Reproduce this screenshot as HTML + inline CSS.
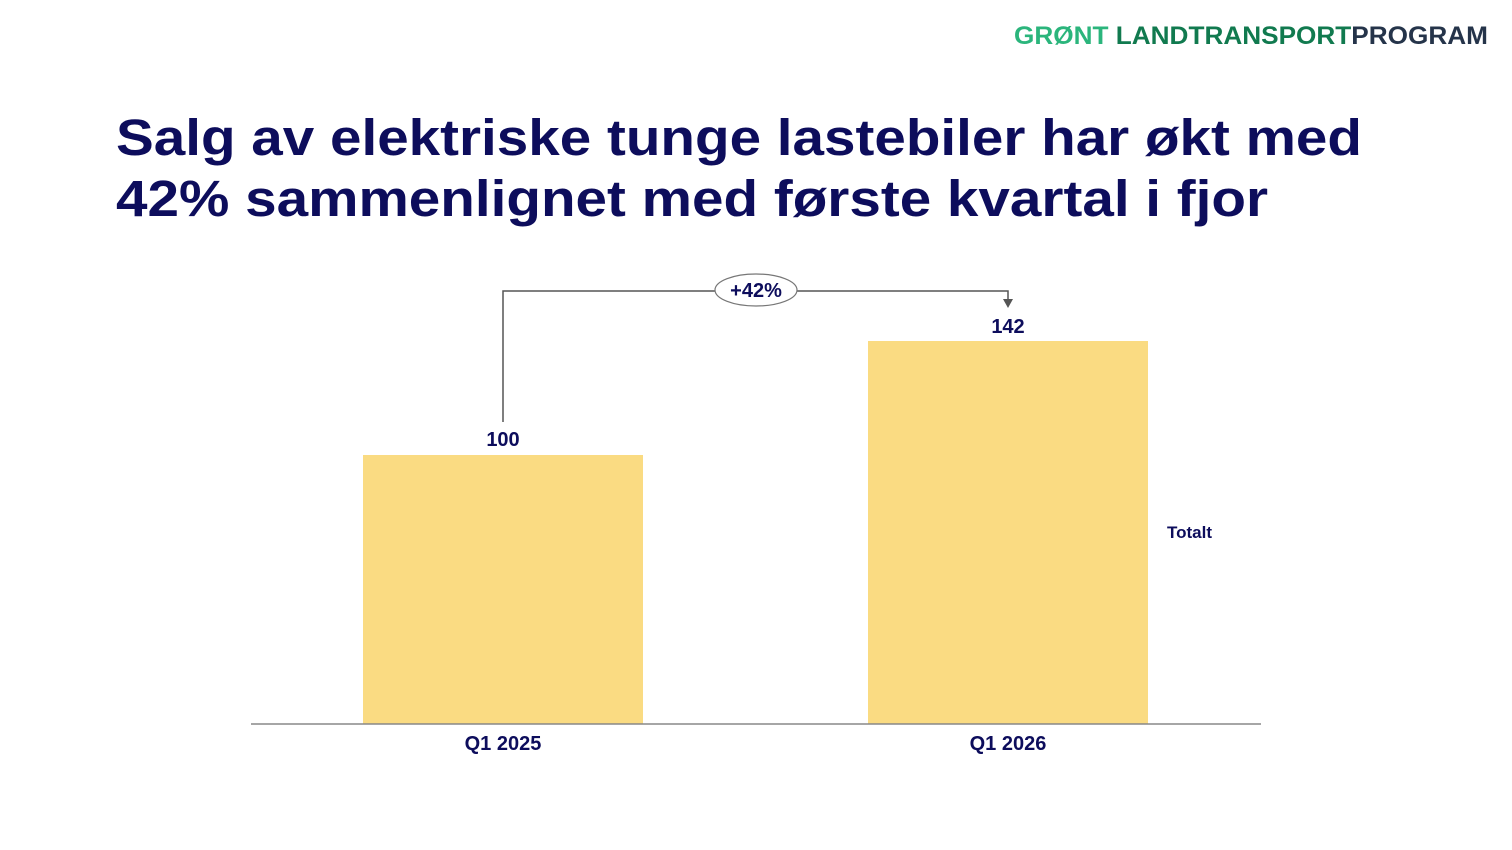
<!DOCTYPE html>
<html><head><style>
html,body{margin:0;padding:0;background:#fff;}
body{width:1512px;height:850px;position:relative;overflow:hidden;font-family:"Liberation Sans",Arial,sans-serif;}
</style></head><body>
<svg width="1512" height="850" xmlns="http://www.w3.org/2000/svg" style="position:absolute;left:0;top:0">
<text x="1014" y="44" font-family="Liberation Sans, sans-serif" font-weight="bold" font-size="25" textLength="474" lengthAdjust="spacingAndGlyphs"><tspan fill="#2bb57c">GRØNT </tspan><tspan fill="#117a4f">LANDTRANSPORT</tspan><tspan fill="#25344a">PROGRAM</tspan></text>
<text x="116" y="155" font-weight="bold" font-size="51" fill="#0d0d5c" textLength="1246" lengthAdjust="spacingAndGlyphs">Salg av elektriske tunge lastebiler har økt med</text>
<text x="116" y="216" font-weight="bold" font-size="51" fill="#0d0d5c" textLength="1152" lengthAdjust="spacingAndGlyphs">42% sammenlignet med første kvartal i fjor</text>
<rect x="363" y="455" width="280" height="269" fill="#fadb82"/>
<rect x="868" y="341" width="280" height="383" fill="#fadb82"/>
<line x1="251" y1="724" x2="1261" y2="724" stroke="#888" stroke-width="1.5"/>
<polyline points="503,422 503,291 1008,291 1008,301" fill="none" stroke="#555" stroke-width="1.5"/>
<polygon points="1003,299 1013,299 1008,308" fill="#555"/>
<ellipse cx="756" cy="290" rx="41" ry="16" fill="#fff" stroke="#777" stroke-width="1.2"/>
<text x="756" y="297" text-anchor="middle" font-weight="bold" font-size="20" fill="#0d0d5c">+42%</text>
<text x="503" y="446" text-anchor="middle" font-weight="bold" font-size="20" fill="#0d0d5c">100</text>
<text x="1008" y="333" text-anchor="middle" font-weight="bold" font-size="20" fill="#0d0d5c">142</text>
<text x="503" y="750" text-anchor="middle" font-weight="bold" font-size="20" fill="#0d0d5c">Q1 2025</text>
<text x="1008" y="750" text-anchor="middle" font-weight="bold" font-size="20" fill="#0d0d5c">Q1 2026</text>
<text x="1167" y="538" font-weight="bold" font-size="17" fill="#0d0d5c">Totalt</text>
</svg>
</body></html>
